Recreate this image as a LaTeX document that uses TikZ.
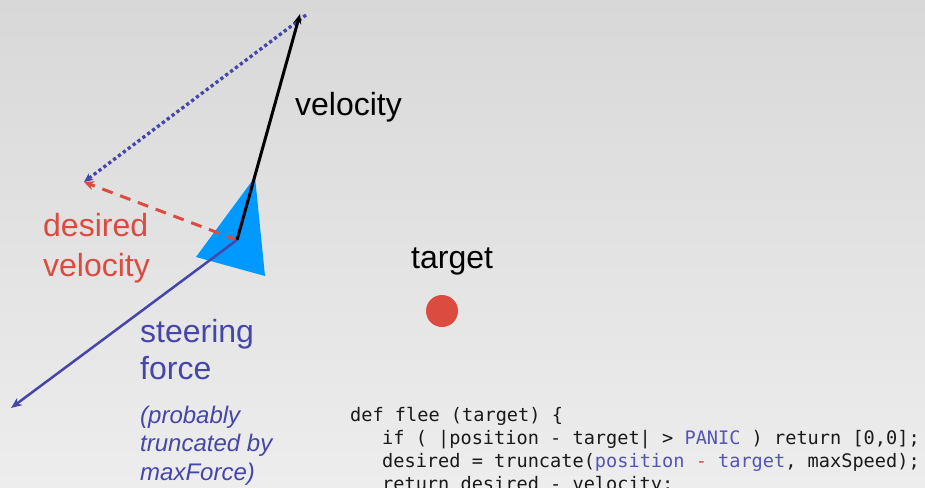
\documentclass[tikz,border=0pt]{standalone}
\usepackage{fontspec}
\setmainfont{Liberation Sans}
\setmonofont{DejaVu Sans Mono}
\usetikzlibrary{arrows.meta}
\definecolor{bgtop}{HTML}{D8D8D8}
\definecolor{bgbot}{HTML}{EDEDED}
\definecolor{seekred}{HTML}{DB4B40}
\definecolor{steerblue}{HTML}{4646AA}
\definecolor{codeblue}{HTML}{5555B5}
\definecolor{boidblue}{HTML}{0099FF}
\definecolor{codegray}{HTML}{1A1A1A}

\tikzset{
  lbl/.style={anchor=base west, inner sep=0pt, font=\fontsize{32}{38}\selectfont},
  note/.style={anchor=base west, inner sep=0pt, text=steerblue, font=\fontsize{24}{28}\selectfont\itshape},
  codeline/.style={anchor=base west, inner sep=0pt, text=codegray, font=\fontsize{18.6}{23}\selectfont\ttfamily},
}

\begin{document}
\begin{tikzpicture}[x=1pt, y=-1pt, >=Stealth]
  % backdrop
  \shade[top color=bgtop, bottom color=bgbot] (0,0) rectangle (925,487);
  \useasboundingbox (0,0) rectangle (925,487);
  % the boid and its vectors
  \fill[boidblue] (255,177) -- (196,257) -- (265,276) -- cycle;
  \coordinate (boid) at (237,240);
  \coordinate (veltip) at (300,14);
  \coordinate (dotstart) at (306,15);
  \coordinate (desired) at (84,182);
  \coordinate (steertip) at (11,408);
  \draw[seekred, line width=3pt, dash pattern=on 11pt off 8pt, -{Stealth[length=10pt,width=9pt]}] (boid) -- (desired);
  \draw[steerblue, line width=3.3pt, dash pattern=on 3.3pt off 2.8pt, -{Stealth[length=9pt,width=8pt]}] (dotstart) -- (desired);
  \draw[black, line width=3pt, -{Stealth[length=10pt,width=8pt]}] (boid) -- (veltip);
  \draw[steerblue, line width=2.5pt, -{Stealth[length=11pt,width=9pt]}] (boid) -- (steertip);
  % target
  \node[circle, fill=seekred, minimum size=32pt, inner sep=0pt] (target) at (442,311) {};
  % labels
  \node[lbl] (vellbl) at (295,115) {velocity};
  \node[lbl] (tgtlbl) at (411,268) {target};
  \node[lbl, text=seekred] (deslbl) at (43,236) {desired};
  \node[lbl, text=seekred] (deslbl2) at (43,276) {velocity};
  \node[lbl, text=steerblue] (steerlbl) at (140,342) {steering};
  \node[lbl, text=steerblue] (steerlbl2) at (140,379) {force};
  \node[note] (note1) at (140,423) {(probably};
  \node[note] (note2) at (140,451) {truncated by};
  \node[note] (note3) at (140,480) {maxForce)};
  % code
  \node[codeline] (code1) at (350,421) {def flee (target) \{};
  \node[codeline] (code2) at (382,444) {if ( |position - target| > \textcolor{codeblue}{PANIC} ) return [0,0];};
  \node[codeline] (code3) at (382,467) {desired = truncate(\textcolor{codeblue}{position} \textcolor{seekred}{-} \textcolor{codeblue}{target}, maxSpeed);};
  \node[codeline] (code4) at (382,490) {return desired - velocity;};
\end{tikzpicture}
\end{document}
